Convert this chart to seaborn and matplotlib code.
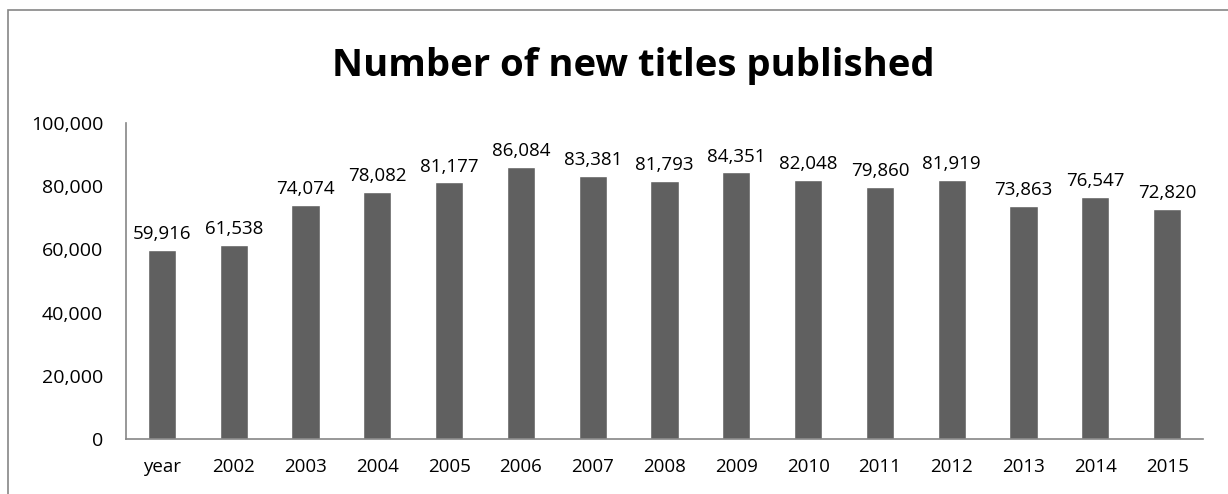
import matplotlib
matplotlib.use("Agg")
import matplotlib.pyplot as plt
import matplotlib.ticker as mticker
import seaborn as sns
import pandas as pd
import numpy as np

# data
years = ["year", "2002", "2003", "2004", "2005", "2006", "2007", "2008",
         "2009", "2010", "2011", "2012", "2013", "2014", "2015"]
titles = [59916, 61538, 74074, 78082, 81177, 86084, 83381, 81793,
          84351, 82048, 79860, 81919, 73863, 76547, 72820]

df = pd.DataFrame({"year": years, "titles": titles})

sns.set_style("white", {"text.color": "black", "xtick.color": "black",
                        "ytick.color": "black"})
plt.rcParams["font.family"] = ["Open Sans", "DejaVu Sans"]

fig = plt.figure(figsize=(12.28, 4.94), dpi=100)
ax = fig.add_axes([126 / 1228, 1 - 439 / 494, (1203 - 126) / 1228, (439 - 123) / 494])

sns.barplot(data=df, x="year", y="titles", color="#606060", width=0.39,
            saturation=1, ax=ax)

# data labels
for i, v in enumerate(titles):
    ax.annotate(f"{v:,}", (i, v), xytext=(0, 5), textcoords="offset points",
                ha="center", va="bottom", fontsize=13.5, color="black")

ax.set_ylim(0, 100000)
ax.set_xlim(-0.5, len(years) - 0.5)
ax.yaxis.set_major_locator(mticker.MultipleLocator(20000))
ax.yaxis.set_major_formatter(mticker.FuncFormatter(lambda v, p: f"{int(v):,}"))

# x ticks sit between categories, labels centred on the bars
ax.set_xticks(np.arange(-0.5, len(years), 1.0))
ax.set_xticklabels([])
ax.set_xticks(np.arange(len(years)), minor=True)
ax.set_xticklabels(years, minor=True)
ax.tick_params(axis="x", which="major", length=5, width=1.2, color="#868686",
               direction="out")
ax.tick_params(axis="x", which="minor", length=0, pad=14, labelsize=13.5,
               labelcolor="black")
ax.tick_params(axis="y", length=4.5, width=1.2, color="#868686", direction="out",
               labelsize=14, pad=12, labelcolor="black")

for side in ["top", "right"]:
    ax.spines[side].set_visible(False)
for side in ["left", "bottom"]:
    ax.spines[side].set_color("#868686")
    ax.spines[side].set_linewidth(1.2)

ax.set_xlabel("")
ax.set_ylabel("")

fig.text(633 / 1228, 1 - 66 / 494, "Number of new titles published", ha="center",
         va="center", fontsize=27.5, fontweight="bold", color="black")

# chart frame (left and top edges visible)
frame = plt.Rectangle((8 / 1228, -0.1), 1.2, 1 - 10 / 494 + 0.1,
                      transform=fig.transFigure, fill=False,
                      edgecolor="#868686", linewidth=1.2)
fig.patches.append(frame)

fig.savefig("out.png", dpi=100)
